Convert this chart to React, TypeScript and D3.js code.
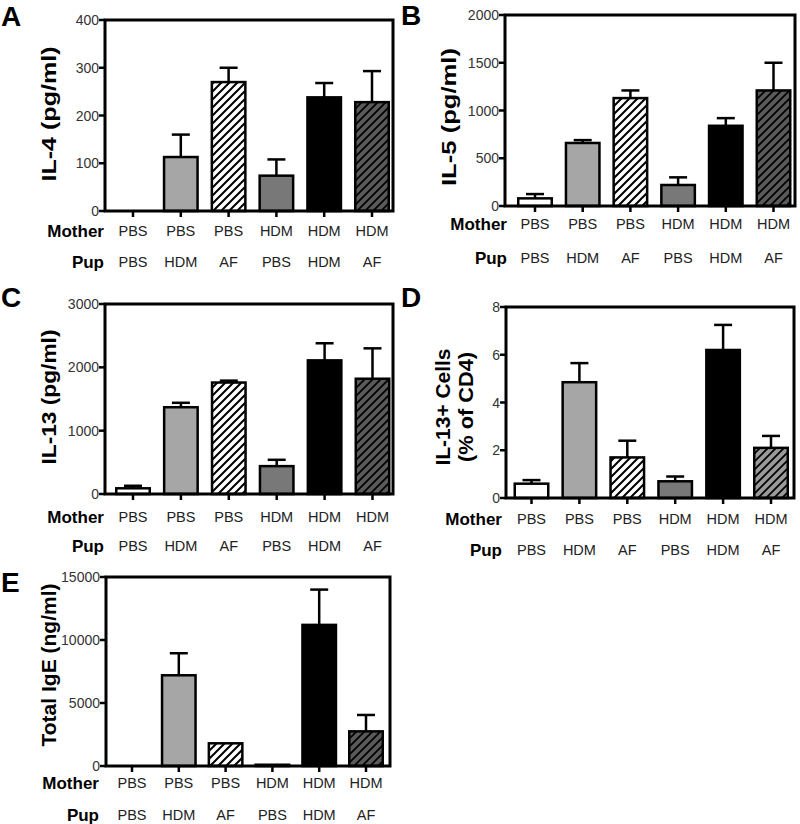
import React from "react";
import * as d3 from "d3";

const mother = ["PBS", "PBS", "PBS", "HDM", "HDM", "HDM"];
const pup = ["PBS", "HDM", "AF", "PBS", "HDM", "AF"];

const il4Mean = [0, 113, 270, 74, 238, 228];
const il4Err = [0, 47, 30, 34, 30, 65];
const il4Ticks = [0, 100, 200, 300, 400];

const il5Mean = [80, 660, 1130, 220, 840, 1210];
const il5Err = [45, 30, 80, 80, 80, 290];
const il5Ticks = [0, 500, 1000, 1500, 2000];

const il13Mean = [90, 1370, 1760, 440, 2110, 1820];
const il13Err = [40, 70, 30, 100, 270, 480];
const il13Ticks = [0, 1000, 2000, 3000];

const cellsMean = [0.6, 4.85, 1.7, 0.7, 6.2, 2.1];
const cellsErr = [0.15, 0.8, 0.7, 0.2, 1.05, 0.5];
const cellsTicks = [0, 2, 4, 6, 8];

const igeMean = [0, 7200, 1800, 100, 11200, 2750];
const igeErr = [0, 1750, 0, 0, 2800, 1300];
const igeTicks = [0, 5000, 10000, 15000];

const FONT = "'Liberation Sans', Arial, Helvetica, sans-serif";

type PanelCfg = {
  letter: string;
  letterX: number;
  letterY: number;
  L: number; T: number; R: number; B: number;
  c0: number; c5: number;
  max: number;
  ticks: number[];
  mean: number[];
  err: number[];
  title: string[];
  titleX: number[];
  titleY: number;
  titleLen: number[];
  motherY: number;
  pupY: number;
  labelX: number;
  hatchDark: string;
};

const panels: PanelCfg[] = [
  { letter: "A", letterX: 1, letterY: 26, L: 105, T: 20, R: 393, B: 211, c0: 133, c5: 372, max: 400, ticks: il4Ticks, mean: il4Mean, err: il4Err, title: ["IL-4 (pg/ml)"], titleX: [48], titleY: 114, titleLen: [135], motherY: 231, pupY: 262, labelX: 104, hatchDark: "#5a5a5a" },
  { letter: "B", letterX: 401, letterY: 25, L: 505, T: 15, R: 795, B: 206, c0: 535, c5: 773.5, max: 2000, ticks: il5Ticks, mean: il5Mean, err: il5Err, title: ["IL-5 (pg/ml)"], titleX: [448], titleY: 117, titleLen: [138], motherY: 224, pupY: 258, labelX: 507, hatchDark: "#5a5a5a" },
  { letter: "C", letterX: 1, letterY: 307, L: 105, T: 304, R: 393, B: 494, c0: 133, c5: 372.5, max: 3000, ticks: il13Ticks, mean: il13Mean, err: il13Err, title: ["IL-13 (pg/ml)"], titleX: [48], titleY: 397, titleLen: [135], motherY: 517, pupY: 546, labelX: 104, hatchDark: "#5a5a5a" },
  { letter: "D", letterX: 401, letterY: 307, L: 506, T: 307, R: 794, B: 498, c0: 531.5, c5: 771, max: 8, ticks: cellsTicks, mean: cellsMean, err: cellsErr, title: ["IL-13+ Cells", "(% of CD4)"], titleX: [442, 465], titleY: 407, titleLen: [117, 110], motherY: 519, pupY: 550, labelX: 502, hatchDark: "#9a9a9a" },
  { letter: "E", letterX: 1, letterY: 592, L: 106, T: 577, R: 390, B: 766, c0: 132, c5: 366, max: 15000, ticks: igeTicks, mean: igeMean, err: igeErr, title: ["Total IgE (ng/ml)"], titleX: [48], titleY: 665, titleLen: [163], motherY: 783, pupY: 815, labelX: 99, hatchDark: "#5a5a5a" },
];

const fills = ["#ffffff", "#a6a6a6", "hatchLight", "#787878", "#000000", "hatchDark"];

function Panel({ p, idx }: { p: PanelCfg; idx: number }) {
  const y = d3.scaleLinear().domain([0, p.max]).range([p.B, p.T]);
  const x = d3.scalePoint<number>().domain(d3.range(6)).range([p.c0, p.c5]);
  const bw = 33.5;
  const cap = 9;
  const idLight = `hl${idx}`;
  const idDark = `hd${idx}`;
  const fillFor = (i: number) => {
    const f = fills[i];
    if (f === "hatchLight") return `url(#${idLight})`;
    if (f === "hatchDark") return `url(#${idDark})`;
    return f;
  };
  return (
    <g>
      <defs>
        <pattern id={idLight} patternUnits="userSpaceOnUse" width={8} height={8}>
          <rect width={8} height={8} fill="#fff" />
          <path d="M-2,2 L2,-2 M0,8 L8,0 M6,10 L10,6" stroke="#000" strokeWidth={2} />
        </pattern>
        <pattern id={idDark} patternUnits="userSpaceOnUse" width={8} height={8}>
          <rect width={8} height={8} fill={p.hatchDark} />
          <path d="M-2,2 L2,-2 M0,8 L8,0 M6,10 L10,6" stroke="#000" strokeWidth={1.8} />
        </pattern>
      </defs>
      <text x={p.letterX} y={p.letterY} fontFamily={FONT} fontWeight="bold" fontSize={28} fill="#000">{p.letter}</text>
      {p.title.map((t, k) => (
        <text key={k} transform={`translate(${p.titleX[k]},${p.titleY}) rotate(-90)`} textAnchor="middle" dominantBaseline="central" fontFamily={FONT} fontWeight="bold" fontSize={21} textLength={p.titleLen[k]} lengthAdjust="spacingAndGlyphs" fill="#000">{t}</text>
      ))}
      {p.mean.map((m, i) => {
        const cx = x(i) as number;
        const top = y(m);
        const et = y(m + p.err[i]);
        return (
          <g key={i}>
            {p.err[i] > 0 && (
              <g stroke="#000" strokeWidth={2.5}>
                <line x1={cx} x2={cx} y1={top} y2={et} />
                <line x1={cx - cap} x2={cx + cap} y1={et} y2={et} />
              </g>
            )}
            {m > 0 && (
              <rect x={cx - bw / 2} y={top} width={bw} height={p.B - top} fill={fillFor(i)} stroke="#000" strokeWidth={2.5} />
            )}
          </g>
        );
      })}
      <rect x={p.L} y={p.T} width={p.R - p.L} height={p.B - p.T} fill="none" stroke="#000" strokeWidth={3} />
      {p.ticks.map((t) => (
        <g key={t}>
          <line x1={p.L - 6} x2={p.L} y1={y(t)} y2={y(t)} stroke="#000" strokeWidth={2.5} />
          <text x={p.L - 6} y={y(t)} textAnchor="end" dominantBaseline="central" fontFamily={FONT} fontSize={14} fill="#333">{t}</text>
        </g>
      ))}
      {d3.range(6).map((i) => (
        <line key={i} x1={x(i) as number} x2={x(i) as number} y1={p.B} y2={p.B + 6} stroke="#000" strokeWidth={2.5} />
      ))}
      <text x={p.labelX} y={p.motherY} textAnchor="end" dominantBaseline="central" fontFamily={FONT} fontWeight="bold" fontSize={17} fill="#000">Mother</text>
      <text x={p.labelX} y={p.pupY} textAnchor="end" dominantBaseline="central" fontFamily={FONT} fontWeight="bold" fontSize={17} fill="#000">Pup</text>
      {mother.map((m, i) => (
        <text key={"m" + i} x={x(i) as number} y={p.motherY} textAnchor="middle" dominantBaseline="central" fontFamily={FONT} fontSize={14.5} fill="#222">{m}</text>
      ))}
      {pup.map((m, i) => (
        <text key={"p" + i} x={x(i) as number} y={p.pupY} textAnchor="middle" dominantBaseline="central" fontFamily={FONT} fontSize={14.5} fill="#222">{m}</text>
      ))}
    </g>
  );
}

export default function App() {
  return (
    <svg width={800} height={824} style={{ position: "absolute", left: 0, top: 0, background: "#fff" }}>
      <rect width={800} height={824} fill="#fff" />
      {panels.map((p, i) => (
        <Panel key={p.letter} p={p} idx={i} />
      ))}
    </svg>
  );
}
